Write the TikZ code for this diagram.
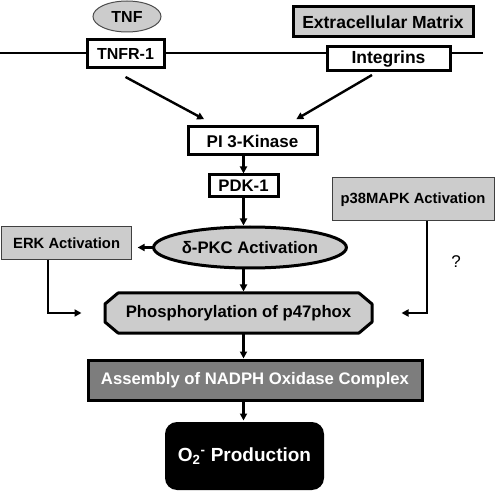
\documentclass[tikz,border=0pt]{standalone}
\usepackage{fontspec}
\setmainfont{Liberation Sans}
\usetikzlibrary{
        arrows.meta,
        backgrounds,
        positioning,
        shapes.geometric
    }
\definecolor{lightbox}{RGB}{204,204,204}
\definecolor{darkbox}{RGB}{125,125,125}
\newcommand{\boldsz}[1]{\bfseries\fontsize{#1}{#1}\selectfont}
\tikzset{>={Triangle[length=7pt,width=7pt]},node distance=20pt}
\tikzset{every node/.append style={outer sep=0pt}}
\tikzset{
    membox/.style={draw,line width=3pt,fill=white,inner sep=0pt,font=\boldsz{16.7}},
    sidebox/.style={draw=black!75,line width=1pt,fill=lightbox,inner sep=0pt,font=\boldsz{14.8}},
    link/.style={->,line width=2.4pt,shorten >=1.5pt}
}

\begin{document}
\begin{tikzpicture}[x=1pt,y=1pt]
                \useasboundingbox (0,0) rectangle (496,-492);
                % membrane
                \coordinate (mleft) at (0,-53);
                \coordinate (mright) at (483,-53);
                \draw[line width=2.4pt] (mleft) -- (mright);
                \node[membox,minimum width=77pt,minimum height=28pt,font=\boldsz{16}] (tnfr) at (125.5,-54) {TNFR-1};
                \node[membox,minimum width=123pt,minimum height=24pt,font=\boldsz{17.5}] (integ) at (388.5,-59) {Integrins};
                \node[ellipse,draw=black!70,line width=1pt,fill=lightbox,minimum width=68pt,minimum height=31pt,inner sep=0pt,font=\boldsz{16}] (tnf) at (127,-16.5) {TNF};
                \node[membox,fill=lightbox,minimum width=180pt,minimum height=30pt,font=\boldsz{17.5}] (ecm) at (383,-22) {Extracellular Matrix};
                % signalling chain
                \node[membox,minimum width=129pt,minimum height=28pt,font=\boldsz{17}] (pi3k) at (252.5,-141) {PI 3-Kinase};
                \node[membox,minimum width=69pt,minimum height=22pt] (pdk) [below=20pt of pi3k,xshift=-9pt] {PDK-1};
                \node[ellipse,draw,line width=3pt,fill=lightbox,minimum width=190pt,minimum height=41pt,inner sep=0pt,font=\boldsz{16.7}] (dpkc) [below=30pt of pdk,xshift=6.5pt] {δ-PKC Activation};
                \node[membox,draw=none,fill=none,minimum width=267pt,minimum height=40pt] (phos) [below=25pt of dpkc,xshift=-11.5pt] {Phosphorylation of p47phox};
                \begin{scope}[on background layer]
                    \draw[line width=3pt,fill=lightbox,line join=round]
                        ([xshift=13pt]phos.north west) -- ([xshift=-13pt]phos.north east)
                        -- ([yshift=-11pt]phos.north east) -- ([yshift=11pt]phos.south east)
                        -- ([xshift=-13pt]phos.south east) -- ([xshift=13pt]phos.south west)
                        -- ([yshift=11pt]phos.south west) -- ([yshift=-11pt]phos.north west) -- cycle;
                \end{scope}
                \node[membox,fill=darkbox,text=white,minimum width=334pt,minimum height=40pt] (asm) [below=27pt of phos,xshift=16.5pt] {Assembly of NADPH Oxidase Complex};
                \node[fill=black,text=white,rounded corners=12pt,minimum width=159pt,minimum height=68pt,inner sep=0pt,font=\boldsz{19}] (o2) [below=22pt of asm,xshift=-10.5pt] {O\textsubscript{2}\textsuperscript{-} Production};
                \node[sidebox,minimum width=130pt,minimum height=33pt] (erk) [left=22pt of dpkc,yshift=4pt] {ERK Activation};
                \node[sidebox,minimum width=162pt,minimum height=43pt] (p38) [right=54pt of pdk,yshift=-13.5pt] {p38MAPK Activation};
                % connectors
                \draw[link] ([yshift=-9pt]tnfr.south) -- ([xshift=-47pt,yshift=7pt]pi3k.north);
                \draw[link] ([xshift=-16.5pt,yshift=-4pt]integ.south) -- ([xshift=42.5pt,yshift=7pt]pi3k.north);
                \draw[link] (pi3k.south -| pdk) -- (pdk.north);
                \draw[link] (pdk.south) -- (pdk |- dpkc.north);
                \draw[link] (dpkc.south -| pdk) -- (phos.north -| pdk);
                \draw[link] (phos.south -| pdk) -- (asm.north -| pdk);
                \draw[link] (asm.south -| pdk) -- (o2.north -| pdk);
                \draw[link,shorten >=6pt] (dpkc.west) -- (dpkc.west -| erk.east);
                \draw[link] ([xshift=-18.5pt]erk.south) |- ([xshift=-22pt]phos.west);
                \draw[link] ([xshift=14pt]p38.south) |- ([xshift=28pt]phos.east)
                    node[pos=0.22,right=21pt,font=\fontsize{17}{17}\selectfont] {?};
\end{tikzpicture}
\end{document}
